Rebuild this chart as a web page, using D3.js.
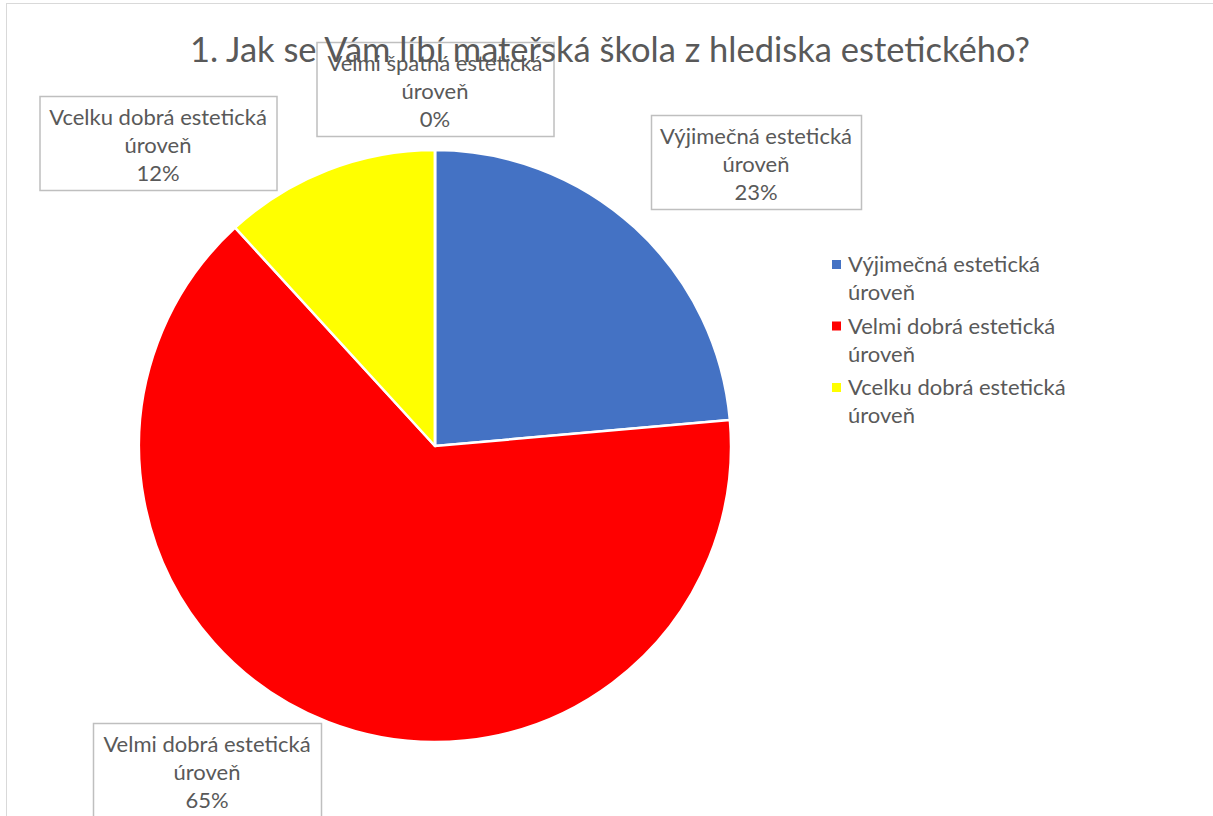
<!DOCTYPE html>
<html lang="cs">
<head>
<meta charset="UTF-8">
<title>Estetika mateřské školy</title>
<script src="https://cdn.jsdelivr.net/npm/d3@7"></script>
<style>
  html, body { margin: 0; padding: 0; background: #fff; }
  svg { display: block; font-family: Lato, "Open Sans", sans-serif; }
</style>
</head>
<body>
<script>
// data
const categories = [
  "Výjimečná estetická úroveň",
  "Velmi dobrá estetická úroveň",
  "Vcelku dobrá estetická úroveň",
  "Velmi špatná estetická úroveň"
];
const shares = [23.6, 64.6, 11.8, 0];
const percentLabels = ["23%", "65%", "12%", "0%"];
const colours = ["#4472C4", "#FF0000", "#FFFF00", "#A5A5A5"];
const legendItems = categories.slice(0, 3);

const w = 1213, h = 816;
const cx = 435, cy = 446, radius = 296;

// label box layout (centre x, top y, width)
const boxes = [
  {x: 756, y: 115, w: 210},
  {x: 207, y: 723, w: 228},
  {x: 158, y: 96, w: 237},
  {x: 435, y: 42, w: 237}
];

// split "... estetická úroveň" before the last word
function splitLabel (s) {
  const i = s.lastIndexOf(" ");
  return [s.slice(0, i), s.slice(i + 1)];
}

const svg = d3.select("body").append("svg").attr("width", w).attr("height", h);

svg.append("rect")
  .attr("x", 6.5).attr("y", 3.5)
  .attr("width", w + 20).attr("height", h + 20)
  .attr("fill", "none").attr("stroke", "#d9d9d9");

const pie = d3.pie().value(d => d).sort(null);
const arc = d3.arc().innerRadius(0).outerRadius(radius);
const arcs = pie(shares);

svg.append("g").attr("transform", `translate(${cx},${cy})`)
  .selectAll("path")
  .data(arcs)
  .enter()
  .append("path")
  .attr("d", arc)
  .attr("fill", (d, i) => colours[i])
  .attr("stroke", "#fff")
  .attr("stroke-width", 2.5)
  .attr("stroke-linejoin", "round");

// data labels
const lineH = 28;
const labels = svg.append("g");
categories.forEach((c, i) => {
  const b = boxes[i];
  const g = labels.append("g");
  g.append("rect")
    .attr("x", b.x - b.w / 2 + 0.5).attr("y", b.y + 0.5)
    .attr("width", b.w).attr("height", 94)
    .attr("fill", "#fff").attr("stroke", "#bfbfbf").attr("stroke-width", 1.5);
  const lines = splitLabel(c).concat([percentLabels[i]]);
  lines.forEach((t, j) => {
    g.append("text")
      .attr("x", b.x).attr("y", b.y + 29 + j * lineH)
      .attr("text-anchor", "middle")
      .attr("font-size", 22)
      .attr("fill", "#595959")
      .text(t);
  });
});

// title on top
svg.append("text")
  .attr("x", 610).attr("y", 62)
  .attr("text-anchor", "middle")
  .attr("font-size", 34.5)
  .attr("fill", "#595959")
  .text("1. Jak se Vám líbí mateřská škola z hlediska estetického?");

// legend
const legend = svg.append("g").attr("transform", "translate(832, 265)");
legendItems.forEach((c, i) => {
  const parts = splitLabel(c);
  const g = legend.append("g").attr("transform", `translate(0, ${i * 61.5})`);
  g.append("rect").attr("x", 0).attr("y", -5).attr("width", 9).attr("height", 9)
    .attr("fill", colours[i]);
  g.append("text").attr("x", 16).attr("y", 7).attr("font-size", 22).attr("fill", "#595959")
    .text(parts[0]);
  g.append("text").attr("x", 16).attr("y", 35).attr("font-size", 22).attr("fill", "#595959")
    .text(parts[1]);
});
</script>
</body>
</html>
